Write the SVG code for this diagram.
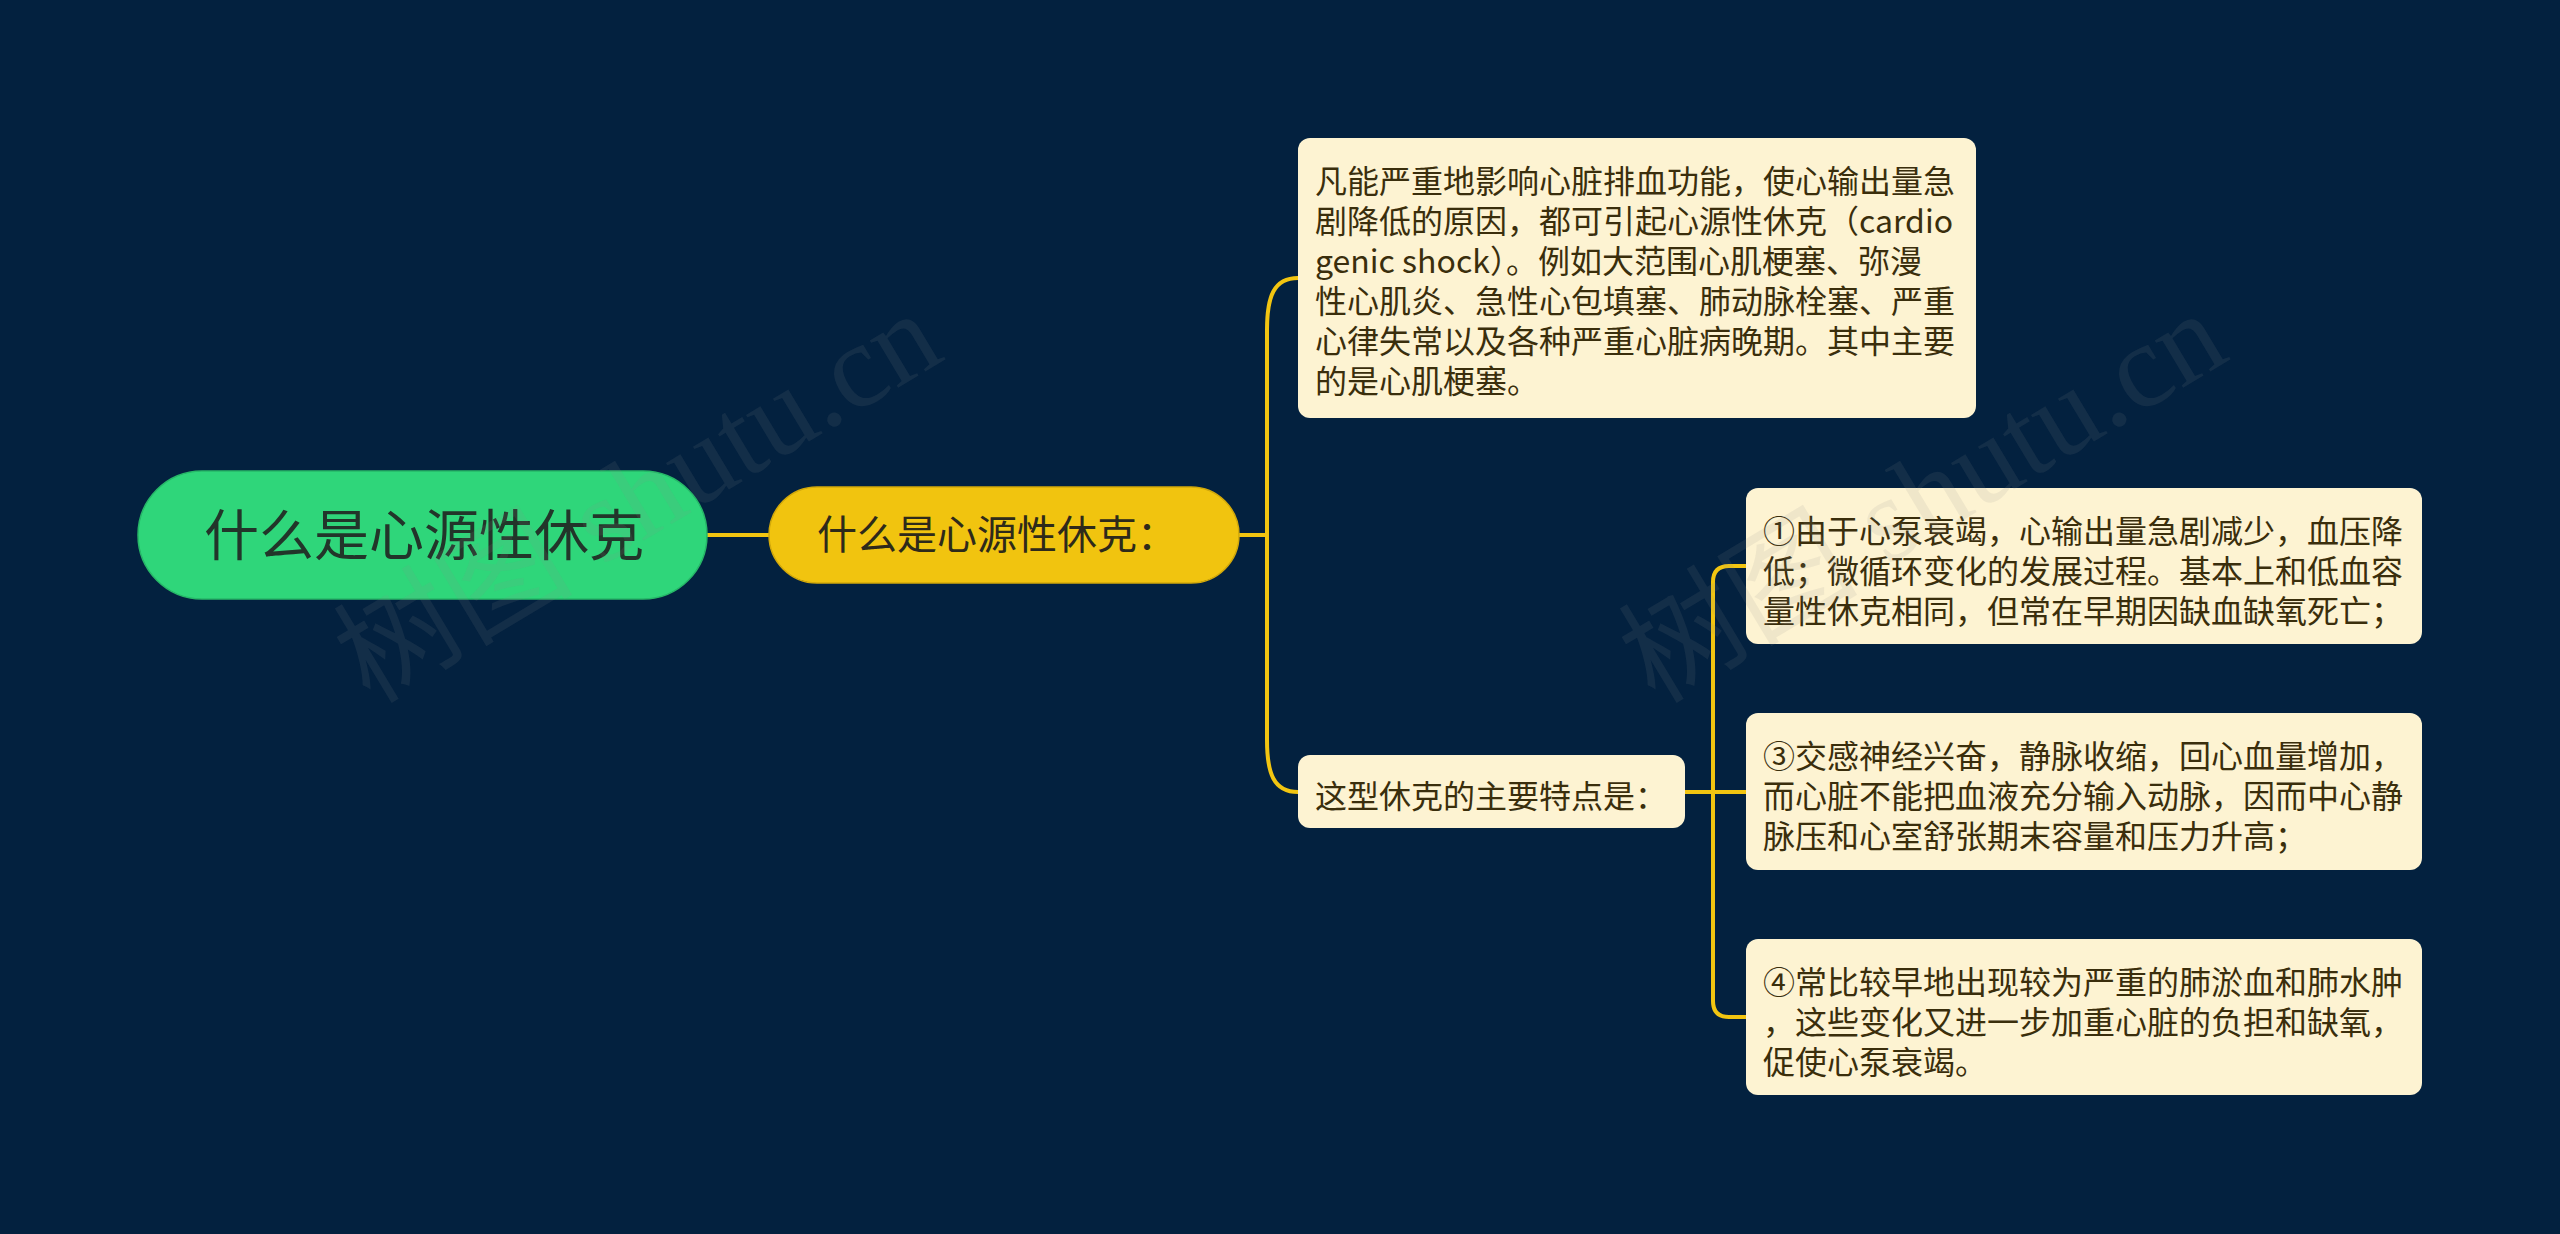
<svg xmlns="http://www.w3.org/2000/svg" width="2560" height="1234" viewBox="0 0 2560 1234">
<style>
.t{font-family:"Noto Sans CJK SC","Noto Sans",sans-serif;}
.box{fill:#fdf3d2;}
.bt{font-size:32px;fill:#3a2e0c;}
.wm{font-family:"Liberation Serif","Noto Sans CJK SC",serif;font-size:120px;fill:#8a8a8a;fill-opacity:0.12;}
.ln{fill:none;stroke:#f2c511;stroke-width:4;}
</style>
<rect x="0" y="0" width="2560" height="1234" fill="#03213f"/>
<g id="connectors">
<path class="ln" d="M707,535 H769"/>
<path class="ln" d="M1239,535 H1267"/>
<path class="ln" d="M1267,535 V330 C1267,296 1274,278 1298,278"/>
<path class="ln" d="M1267,535 V740 C1267,774 1274,792 1298,792"/>
<path class="ln" d="M1685,792 H1746"/>
<path class="ln" d="M1713,792 V582 Q1713,566 1729,566 H1746"/>
<path class="ln" d="M1713,792 V1001 Q1713,1017 1729,1017 H1746"/>
</g>
<g id="root">
<rect x="138" y="471" width="569" height="128" rx="64" fill="#2fd67a" stroke="#27b868" stroke-width="1.5"/>
<text class="t" x="204" y="555" font-size="55" fill="#22352a">什么是心源性休克</text>
</g>
<g id="n1">
<rect x="769" y="487" width="470" height="96" rx="48" fill="#f1c40f" stroke="#d3a90a" stroke-width="1.5"/>
<text class="t" x="817" y="549" font-size="40" fill="#2e2a1a">什么是心源性休克：</text>
</g>
<g id="n2">
<rect class="box" x="1298" y="138" width="678" height="280" rx="12"/>
<text class="t bt">
<tspan x="1315" y="193">凡能严重地影响心脏排血功能，使心输出量急</tspan>
<tspan x="1315" y="233">剧降低的原因，都可引起心源性休克（cardio</tspan>
<tspan x="1315" y="273">genic shock）。例如大范围心肌梗塞、弥漫</tspan>
<tspan x="1315" y="313">性心肌炎、急性心包填塞、肺动脉栓塞、严重</tspan>
<tspan x="1315" y="353">心律失常以及各种严重心脏病晚期。其中主要</tspan>
<tspan x="1315" y="393">的是心肌梗塞。</tspan>
</text>
</g>
<g id="n3">
<rect class="box" x="1298" y="755" width="387" height="73" rx="12"/>
<text class="t bt" x="1315" y="808">这型休克的主要特点是：</text>
</g>
<g id="n4">
<rect class="box" x="1746" y="488" width="676" height="156" rx="12"/>
<text class="t bt">
<tspan x="1763" y="543">①由于心泵衰竭，心输出量急剧减少，血压降</tspan>
<tspan x="1763" y="583">低；微循环变化的发展过程。基本上和低血容</tspan>
<tspan x="1763" y="623">量性休克相同，但常在早期因缺血缺氧死亡；</tspan>
</text>
</g>
<g id="n5">
<rect class="box" x="1746" y="713" width="676" height="157" rx="12"/>
<text class="t bt">
<tspan x="1763" y="768">③交感神经兴奋，静脉收缩，回心血量增加，</tspan>
<tspan x="1763" y="808">而心脏不能把血液充分输入动脉，因而中心静</tspan>
<tspan x="1763" y="848">脉压和心室舒张期末容量和压力升高；</tspan>
</text>
</g>
<g id="n6">
<rect class="box" x="1746" y="939" width="676" height="156" rx="12"/>
<text class="t bt">
<tspan x="1763" y="994">④常比较早地出现较为严重的肺淤血和肺水肿</tspan>
<tspan x="1763" y="1034">，这些变化又进一步加重心脏的负担和缺氧，</tspan>
<tspan x="1763" y="1074">促使心泵衰竭。</tspan>
</text>
</g>
<g id="watermarks">
<text class="wm" transform="translate(370,705) rotate(-31)">树图 shutu.cn</text>
<text class="wm" transform="translate(1655,705) rotate(-31)">树图 shutu.cn</text>
</g>
</svg>
